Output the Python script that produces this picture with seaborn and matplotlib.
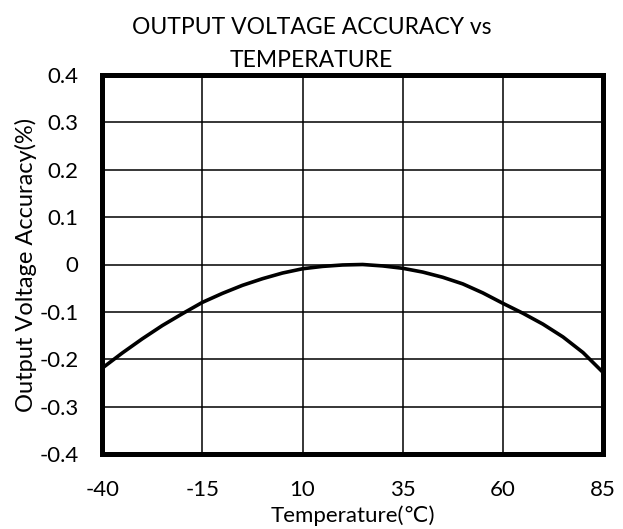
import matplotlib
matplotlib.use("Agg")
import matplotlib.pyplot as plt
import seaborn as sns
import pandas as pd

# values
temperature = [-40, -35, -30, -25, -20, -15, -10, -5, 0, 5, 10, 15, 20, 25,
               30, 35, 40, 45, 50, 55, 60, 65, 70, 75, 80, 85]
accuracy = [-0.219, -0.187, -0.157, -0.129, -0.104, -0.080, -0.061, -0.044,
            -0.030, -0.018, -0.009, -0.004, -0.001, 0.000, -0.003, -0.008,
            -0.016, -0.027, -0.041, -0.060, -0.082, -0.103, -0.126, -0.153,
            -0.186, -0.228]
x_ticks = [-40, -15, 10, 35, 60, 85]
y_ticks = [-0.4, -0.3, -0.2, -0.1, 0, 0.1, 0.2, 0.3, 0.4]
y_tick_labels = ["-0.4", "-0.3", "-0.2", "-0.1", "0", "0.1", "0.2", "0.3", "0.4"]

df = pd.DataFrame({"Temperature": temperature, "Accuracy": accuracy})

sns.set_theme(style="white")
plt.rcParams['font.family'] = ['Lato', 'DejaVu Sans']

fig = plt.figure(figsize=(6.23, 5.29), dpi=100)
ax = fig.add_axes([0.164, 0.142, 0.804, 0.716])

sns.lineplot(data=df, x="Temperature", y="Accuracy", ax=ax, color="black", linewidth=2.6)

ax.set_xlim(-40, 85)
ax.set_ylim(-0.4, 0.4)
ax.set_xticks(x_ticks)
ax.set_xticklabels([str(t) for t in x_ticks], fontsize=16)
ax.set_yticks(y_ticks)
ax.set_yticklabels(y_tick_labels, fontsize=16)
ax.grid(True, color="black", linewidth=1.1)
ax.tick_params(axis="x", length=0, pad=19, colors="black")
ax.tick_params(axis="y", length=0, pad=17, colors="black")

for s in ax.spines.values():
    s.set_color("black")
    s.set_linewidth(3.6)

ax.set_xlabel("Temperature(℃)", fontsize=16, labelpad=4, color="black")
ax.set_ylabel("Output Voltage Accuracy(%)", fontsize=17, labelpad=2, color="black")
# title is centred on the figure, not the axes
fig.text(0.5, 0.967, "OUTPUT VOLTAGE ACCURACY vs\nTEMPERATURE", fontsize=16.5,
         color="black", ha="center", va="top", linespacing=1.65)

fig.savefig("out.png", dpi=100)
